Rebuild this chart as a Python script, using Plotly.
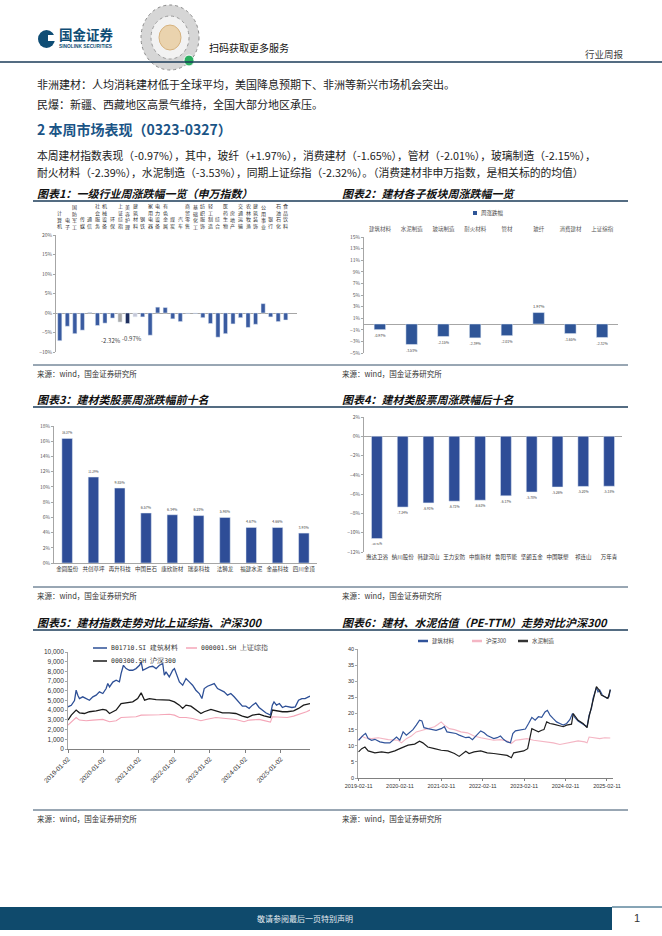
import plotly.graph_objects as go

W, H = 662, 936
FONT = "Noto Sans CJK SC"
MONO = "DejaVu Sans Mono"


def X(p):
    return p / W


def Y(p):
    return 1 - p / H


# ---------------- data ----------------
# Chart 1: SW level-1 industries weekly change (%)
ind_names = ["计算机", "电子", "国防军工", "传媒", "通信", "社会服务", "机械设备", "环保",
             "上证综指", "美容护理", "建筑材料", "钢铁", "家用电器", "电力设备", "有色金属", "煤炭",
             "汽车", "商贸零售", "基础化工", "纺织服饰", "轻工制造", "综合", "医药生物", "房地产",
             "交通运输", "农林牧渔", "建筑装饰", "公用事业", "银行", "石油石化", "食品饮料"]
ind_chg = [-7.1, -3.4, -5.3, -4.4, 0.1, -3.2, -2.6, -1.3,
           -2.32, -2.7, -0.97, -1.0, -5.7, 1.5, 1.4, -1.5,
           -2.2, -0.1, -0.1, -1.2, -2.7, -6.2, -5.3, -2.8,
           -1.2, -3.7, -2.9, 2.4, -1.0, -2.2, -1.8]
ind_labelled = ["上证综指", "建筑材料"]

# Chart 2: building-material sub-sectors
sub_names = ["建筑材料", "水泥制造", "玻璃制造", "耐火材料", "管材", "玻纤", "消费建材", "上证综指"]
sub_chg = [-0.97, -3.53, -2.15, -2.39, -2.01, 1.97, -1.65, -2.32]

# Chart 3: top ten
top_names = ["金圆股份", "共创草坪", "再升科技", "中国巨石", "康欣新材", "瑞泰科技", "法狮龙",
             "福建水泥", "金晶科技", "四川金顶"]
top_chg = [16.37, 11.29, 9.85, 6.57, 6.34, 6.23, 5.98, 4.67, 4.66, 3.93]

# Chart 4: bottom ten
bot_names = ["惠达卫浴", "纳川股份", "韩建河山", "王力安防", "中旗新材", "鲁阳节能", "坚朗五金",
             "中国联塑", "祁连山", "万年青"]
bot_chg = [-10.61, -7.34, -6.91, -6.73, -6.63, -6.17, -5.78, -5.26, -5.20, -5.18]

# Chart 5: index levels
c5_tick_dates = ["2019-01-02", "2020-01-02", "2021-01-02", "2022-01-02", "2023-01-02",
                 "2024-01-02", "2025-01-02"]
bm_dates = ["2019-01-02", "2019-02-05", "2019-03-10", "2019-03-27", "2019-04-13", "2019-04-30",
            "2019-06-03", "2019-07-08", "2019-08-11", "2019-09-15", "2019-10-19", "2019-11-22",
            "2019-12-27",
            "2020-01-30", "2020-02-16", "2020-03-05", "2020-04-08", "2020-05-12", "2020-06-15",
            "2020-07-02", "2020-07-26", "2020-08-23", "2020-09-26", "2020-10-30", "2020-12-03",
            "2021-01-08", "2021-01-25", "2021-02-11", "2021-03-17", "2021-04-20", "2021-05-24",
            "2021-06-28", "2021-08-01", "2021-09-04", "2021-09-21", "2021-10-08", "2021-11-11",
            "2021-12-16",
            "2022-01-03", "2022-01-20", "2022-02-23", "2022-03-29", "2022-05-02", "2022-06-05",
            "2022-07-09", "2022-08-12", "2022-09-16", "2022-10-13", "2022-11-06", "2022-12-10",
            "2023-01-14", "2023-02-17", "2023-03-23", "2023-04-26", "2023-05-30", "2023-07-04",
            "2023-08-07", "2023-09-10", "2023-10-14", "2023-12-04",
            "2024-01-09", "2024-02-12", "2024-03-17", "2024-04-20", "2024-05-24", "2024-06-28",
            "2024-08-01", "2024-09-18", "2024-10-08", "2024-10-25", "2024-11-20", "2024-12-20",
            "2025-01-20", "2025-02-20", "2025-03-25", "2025-04-28", "2025-06-01", "2025-07-05",
            "2025-08-08", "2025-09-10", "2025-10-15", "2025-10-31"]
bm_vals = [4350, 4500, 5000, 6060, 5550, 5200, 5380, 5200, 5030, 5380, 5550, 5890, 5720,
           6230, 6750, 6400, 6900, 7090, 6920, 7770, 8630, 8290, 8120, 8120, 8290,
           8630, 8970, 8120, 8290, 8460, 8530, 8290, 8630, 8800, 7600, 7950, 7430, 8120,
           8290, 7770, 6920, 6580, 7260, 6920, 6580, 6060, 5720, 5200, 6230, 6470,
           6580, 6750, 6230, 6060, 5890, 5550, 5720, 5380, 5030, 4420,
           4420, 4180, 4520, 4760, 4280, 4010, 3730, 3490, 4520, 4860, 4520, 4690,
           4280, 4420, 4350, 4280, 4350, 5030, 5200, 5200, 5380, 5440]
hs_dates = ["2019-01-02", "2019-02-05", "2019-03-27", "2019-04-30", "2019-06-20", "2019-08-11",
            "2019-10-19", "2019-12-27", "2020-01-30", "2020-03-05", "2020-04-08", "2020-05-12",
            "2020-07-02", "2020-08-23", "2020-10-30", "2020-12-20", "2021-01-25", "2021-03-01",
            "2021-04-20", "2021-06-28", "2021-09-04", "2021-11-11", "2022-01-03", "2022-02-23",
            "2022-03-29", "2022-05-02", "2022-06-22", "2022-08-12", "2022-10-03", "2022-11-06",
            "2023-01-14", "2023-03-06", "2023-05-13", "2023-07-21", "2023-09-27", "2023-12-04",
            "2024-01-25", "2024-03-17", "2024-05-24", "2024-07-15", "2024-09-18", "2024-10-08",
            "2024-11-20", "2025-01-20", "2025-03-10", "2025-05-15", "2025-07-05", "2025-08-25",
            "2025-10-31"]
hs_vals = [2980, 3490, 4010, 3730, 3660, 3840, 3940, 4080, 4010, 3660, 3840, 4010,
           4690, 4760, 4860, 5200, 5790, 5030, 5200, 5100, 5030, 5030, 4860, 4520,
           4180, 4520, 4420, 4010, 3660, 3840, 4080, 3940, 3730, 3730, 3660, 3390,
           3250, 3490, 3590, 3420, 3250, 4010, 3940, 3840, 3840, 3940, 4180, 4520, 4690]
sh_dates = ["2019-01-02", "2019-02-22", "2019-03-27", "2019-04-30", "2019-07-08", "2019-09-15",
            "2019-12-27", "2020-03-05", "2020-05-12", "2020-07-02", "2020-08-23", "2020-12-03",
            "2021-01-25", "2021-04-20", "2021-08-01", "2021-11-11", "2022-01-03", "2022-02-23",
            "2022-05-02", "2022-07-09", "2022-10-03", "2022-11-23", "2023-01-14", "2023-03-06",
            "2023-06-17", "2023-09-27", "2023-12-21", "2024-02-12", "2024-05-24", "2024-09-18",
            "2024-10-08", "2024-12-20", "2025-03-10", "2025-05-15", "2025-07-20", "2025-09-25",
            "2025-10-31"]
sh_vals = [2470, 2980, 3250, 2980, 2910, 2980, 3050, 2810, 2910, 3250, 3250, 3320,
           3490, 3490, 3530, 3590, 3490, 3250, 3250, 3150, 2910, 3050, 3180, 3250,
           3150, 3050, 2810, 2980, 3050, 2770, 3320, 3250, 3250, 3390, 3590, 3840, 4010]

# Chart 6: PE-TTM
c6_tick_dates = ["2019-02-11", "2020-02-11", "2021-02-11", "2022-02-11", "2023-02-11",
                 "2024-02-11", "2025-02-11"]
pe_bm_dates = ["2019-02-11", "2019-03-05", "2019-03-25", "2019-04-14", "2019-05-07", "2019-06-06",
               "2019-07-05", "2019-08-18", "2019-10-01", "2019-11-14", "2019-12-13", "2020-01-12",
               "2020-02-10", "2020-03-10", "2020-04-08", "2020-05-07", "2020-06-05", "2020-07-04",
               "2020-08-02", "2020-08-23", "2020-09-10", "2020-10-14", "2020-11-27", "2020-12-26",
               "2021-02-09", "2021-03-09", "2021-04-01", "2021-05-06", "2021-06-19", "2021-07-18",
               "2021-08-16", "2021-09-14", "2021-10-13", "2021-11-12", "2021-12-11", "2022-01-24",
               "2022-02-23", "2022-03-22", "2022-04-20", "2022-05-19", "2022-06-18", "2022-07-17",
               "2022-08-15", "2022-09-14", "2022-10-13", "2022-11-03", "2022-11-26", "2023-01-09",
               "2023-02-22", "2023-03-22", "2023-04-20", "2023-05-19", "2023-06-17", "2023-07-16",
               "2023-08-14", "2023-09-04", "2023-09-27", "2023-10-26", "2023-11-24", "2023-12-23",
               "2024-01-22", "2024-02-21", "2024-03-20", "2024-04-13", "2024-05-03", "2024-06-01",
               "2024-07-01", "2024-07-30", "2024-08-19", "2024-09-06", "2024-09-27", "2024-10-11",
               "2024-10-26", "2024-11-10", "2024-11-24", "2024-12-09", "2025-01-01", "2025-01-22",
               "2025-02-11", "2025-03-01", "2025-03-12"]
pe_bm_vals = [11.7, 12.7, 13.3, 13.8, 12.2, 11.7, 12.0, 11.2, 10.9, 10.9, 11.7, 12.7,
              11.7, 14.3, 13.3, 14.3, 15.0, 16.4, 17.9, 17.7, 15.6, 15.3, 15.0, 14.8,
              15.3, 15.9, 14.3, 14.0, 13.8, 13.3, 13.0, 12.5, 12.7, 11.9, 13.0, 14.6,
              14.0, 13.2, 12.7, 12.2, 12.5, 13.0, 11.9, 11.2, 10.9, 13.8, 14.6, 15.0,
              15.2, 16.9, 18.8, 17.9, 19.0, 18.8, 20.5, 21.0, 19.5, 18.4, 17.4, 16.9,
              16.4, 16.9, 18.1, 20.0, 18.8, 17.7, 17.1, 16.4, 15.9, 19.5, 21.6, 24.7,
              26.2, 28.1, 26.7, 27.3, 25.7, 25.2, 24.7, 25.2, 27.5]
pe_hs_dates = ["2019-02-11", "2019-03-11", "2019-04-08", "2019-06-06", "2019-08-03", "2019-10-31",
               "2020-01-26", "2020-02-24", "2020-04-08", "2020-05-21", "2020-07-04", "2020-08-17",
               "2020-10-14", "2020-12-12", "2021-01-10", "2021-02-09", "2021-03-09", "2021-04-22",
               "2021-06-06", "2021-08-02", "2021-09-29", "2021-11-26", "2022-01-24", "2022-03-22",
               "2022-05-19", "2022-07-17", "2022-09-14", "2022-10-21", "2022-11-26", "2023-01-09",
               "2023-03-08", "2023-05-06", "2023-07-02", "2023-08-29", "2023-10-26", "2023-12-23",
               "2024-02-05", "2024-04-04", "2024-06-01", "2024-07-30", "2024-08-19", "2024-09-06",
               "2024-10-11", "2024-12-09", "2025-01-22", "2025-03-12"]
pe_hs_vals = [11.7, 13.0, 12.5, 12.2, 12.5, 11.9, 11.7, 10.9, 12.2, 13.0, 14.3, 14.8,
              15.3, 15.9, 16.6, 17.4, 16.4, 15.3, 15.0, 14.3, 14.0, 13.0, 12.5, 12.2,
              11.7, 11.9, 11.5, 10.7, 11.7, 11.9, 12.2, 11.7, 11.5, 11.2, 10.9, 10.4,
              10.7, 11.2, 11.5, 11.2, 10.9, 12.7, 12.5, 12.2, 12.5, 12.4]
pe_cm_dates = ["2019-02-11", "2019-03-11", "2019-04-08", "2019-05-07", "2019-07-05", "2019-09-02",
               "2019-10-31", "2019-12-28", "2020-02-10", "2020-03-10", "2020-04-23", "2020-06-20",
               "2020-08-02", "2020-08-31", "2020-10-14", "2020-12-12", "2021-02-09", "2021-04-09",
               "2021-06-06", "2021-07-18", "2021-08-16", "2021-09-14", "2021-10-13", "2021-11-26",
               "2022-01-24", "2022-03-22", "2022-05-19", "2022-07-17", "2022-09-14", "2022-10-21",
               "2022-11-11", "2022-12-25", "2023-02-07", "2023-03-14", "2023-03-31", "2023-04-20",
               "2023-05-19", "2023-06-17", "2023-07-16", "2023-08-05", "2023-08-29", "2023-09-27",
               "2023-10-26", "2023-12-09", "2024-01-22", "2024-02-21", "2024-04-04", "2024-04-19",
               "2024-06-01", "2024-07-15", "2024-08-19", "2024-09-06", "2024-10-11", "2024-11-10",
               "2024-12-03", "2024-12-23", "2025-01-22", "2025-02-19", "2025-03-12"]
pe_cm_vals = [8.1, 9.1, 9.6, 8.4, 7.8, 8.1, 7.8, 8.4, 9.1, 9.6, 10.2, 10.5,
              11.4, 10.9, 9.6, 9.1, 8.6, 8.4, 7.6, 6.7, 7.4, 8.3, 7.6, 8.1,
              8.4, 7.8, 7.6, 7.4, 7.0, 6.3, 7.8, 8.1, 8.4, 9.1, 12.2, 15.3,
              14.8, 14.3, 14.8, 15.0, 17.4, 16.9, 16.7, 16.4, 15.9, 16.4, 16.7, 20.0,
              17.9, 16.9, 15.6, 19.0, 24.1, 28.3, 27.3, 25.7, 25.2, 24.7, 27.3]

# ---------------- styles ----------------
BLUE = "#2f5597"
BAR1 = "#3a5ba0"
NAVY = "#1b3b58"
TICK = "#595959"
AXC = "#a6a6a6"

fig = go.Figure()

# chart 1
c1_colors = []
for n in ind_names:
    if n == "上证综指":
        c1_colors.append("#a9a9a9")
    elif n == "美容护理":
        c1_colors.append("#1f2f5e")
    elif n == "建筑材料":
        c1_colors.append("#c5c8d8")
    else:
        c1_colors.append(BAR1)
fig.add_trace(go.Bar(x=ind_names, y=ind_chg, marker_color=c1_colors, width=0.55,
                     xaxis="x", yaxis="y", showlegend=False, hoverinfo="x+y"))

# chart 2
fig.add_trace(go.Bar(x=sub_names, y=sub_chg, marker_color=BLUE, width=0.36,
                     text=[f"{v:.2f}%" for v in sub_chg], textposition="outside",
                     textfont=dict(size=6.5, color="#404040", family=FONT), cliponaxis=False,
                     xaxis="x2", yaxis="y2", showlegend=False))

# chart 3
fig.add_trace(go.Bar(x=top_names, y=top_chg, marker_color="#2e4d97", width=0.4,
                     text=[f"{v:.2f}%" for v in top_chg], textposition="outside",
                     textfont=dict(size=6, color="#404040", family=FONT), cliponaxis=False,
                     xaxis="x3", yaxis="y3", showlegend=False))

# chart 4
fig.add_trace(go.Bar(x=bot_names, y=bot_chg, marker_color="#2e4d97", width=0.42,
                     text=[f"{v:.2f}%" for v in bot_chg], textposition="outside",
                     textfont=dict(size=6, color="#404040", family=FONT), cliponaxis=False,
                     xaxis="x4", yaxis="y4", showlegend=False))

# chart 5
fig.add_trace(go.Scatter(x=sh_dates, y=sh_vals, mode="lines", line=dict(color="#f4a6b8", width=1.1),
                         xaxis="x5", yaxis="y5", showlegend=False))
fig.add_trace(go.Scatter(x=hs_dates, y=hs_vals, mode="lines", line=dict(color="#1a1a1a", width=1.3),
                         xaxis="x5", yaxis="y5", showlegend=False))
fig.add_trace(go.Scatter(x=bm_dates, y=bm_vals, mode="lines", line=dict(color="#2d4f96", width=1.3),
                         xaxis="x5", yaxis="y5", showlegend=False))

# chart 6
fig.add_trace(go.Scatter(x=pe_hs_dates, y=pe_hs_vals, mode="lines", line=dict(color="#f4b6c4", width=1.1),
                         xaxis="x6", yaxis="y6", showlegend=False))
fig.add_trace(go.Scatter(x=pe_bm_dates, y=pe_bm_vals, mode="lines", line=dict(color="#30539a", width=1.2),
                         xaxis="x6", yaxis="y6", showlegend=False))
fig.add_trace(go.Scatter(x=pe_cm_dates, y=pe_cm_vals, mode="lines", line=dict(color="#1e1e1e", width=1.2),
                         xaxis="x6", yaxis="y6", showlegend=False))


def yax(dom, rng, dtick, suffix="", fmt=None, size=5, tick0=None, zero=False, fam=FONT, col=TICK):
    d = dict(domain=dom, range=rng, dtick=dtick, ticksuffix=suffix, showgrid=False,
             tickfont=dict(size=size, color=col, family=fam), showline=True, linecolor=AXC,
             linewidth=0.8, ticks="outside", ticklen=2, tickcolor=AXC, automargin=False,
             zeroline=zero, zerolinecolor=AXC, zerolinewidth=0.8)
    if fmt:
        d["tickformat"] = fmt
    if tick0 is not None:
        d["tick0"] = tick0
    return d


layout = dict(
    width=W, height=H, margin=dict(l=0, r=0, t=0, b=0, pad=0, autoexpand=False),
    autosize=False,
    paper_bgcolor="white", plot_bgcolor="white",
    font=dict(family=FONT, color="#222"),
    xaxis=dict(domain=[X(56), X(297)], anchor="y", type="category", range=[-0.5, 31.5],
               showticklabels=False, showgrid=False, showline=False, ticks="", automargin=False),
    yaxis=dict(anchor="x", **yax([Y(352), Y(235)], [-10, 20], 5, "%", zero=True)),
    xaxis2=dict(domain=[X(364), X(618)], anchor="y2", type="category", side="top",
                tickfont=dict(size=5.5, color=TICK), showgrid=False, showline=False, ticks="",
                ticklabelstandoff=4, automargin=False),
    yaxis2=dict(anchor="x2", **yax([Y(353), Y(237)], [-5, 15], 2, "%", tick0=-5, zero=True)),
    xaxis3=dict(domain=[X(54), X(317)], anchor="y3", type="category",
                tickfont=dict(size=5.5, color="#333"), showgrid=False, showline=True,
                linecolor=AXC, linewidth=0.8, ticks="", automargin=False),
    yaxis3=dict(anchor="x3", **yax([Y(563), Y(426)], [0, 18], 2, "%")),
    xaxis4=dict(domain=[X(364), X(622)], anchor="y4", type="category",
                tickfont=dict(size=5.5, color="#333"), showgrid=False, showline=False, ticks="",
                automargin=False),
    yaxis4=dict(anchor="x4", **yax([Y(552), Y(417)], [-12, 2], 2, "%", zero=True)),
    xaxis5=dict(domain=[X(68), X(310)], anchor="y5", type="date",
                range=["2019-01-02", "2025-10-31"], tickvals=c5_tick_dates, tickformat="%Y-%m-%d",
                tickangle=-45, tickfont=dict(size=6.5, color="#333", family="Liberation Sans"),
                showgrid=False, showline=True, linecolor="#808080", linewidth=0.8,
                ticks="outside", ticklen=3, tickcolor="#808080", automargin=False),
    yaxis5=dict(anchor="x5", **yax([Y(749), Y(652)], [0, 10000], 1000, fmt=",", size=6.5,
                                   fam="Liberation Sans", col="#333")),
    xaxis6=dict(domain=[X(358), X(613)], anchor="y6", type="date",
                range=["2019-02-06", "2025-04-05"], tickvals=c6_tick_dates, tickformat="%Y-%m-%d",
                tickangle=0, tickfont=dict(size=5.5, color="#333", family="Liberation Sans"),
                showgrid=False, showline=True, linecolor="#808080", linewidth=0.8,
                ticks="outside", ticklen=2, tickcolor="#808080", automargin=False),
    yaxis6=dict(anchor="x6", **yax([Y(778), Y(649)], [0, 40], 5, size=5.5,
                                   fam="Liberation Sans", col="#333")),
)

ann = []
shapes = []


def txt(x, y, s, size, color="#222", xanchor="left", family=FONT, bold=False, italic=False):
    if bold:
        s = f"<b>{s}</b>"
    if italic:
        s = f"<i>{s}</i>"
    ann.append(dict(x=X(x), y=Y(y), xref="paper", yref="paper", text=s, showarrow=False,
                    xanchor=xanchor, yanchor="middle",
                    font=dict(size=size, color=color, family=family)))


def hline(x0, x1, y, color=NAVY, width=1.5):
    shapes.append(dict(type="line", xref="paper", yref="paper", x0=X(x0), x1=X(x1),
                       y0=Y(y), y1=Y(y), line=dict(color=color, width=width)))


def box(x0, x1, y0, y1, color):
    shapes.append(dict(type="rect", xref="paper", yref="paper", x0=X(x0), x1=X(x1),
                       y0=Y(y1), y1=Y(y0), fillcolor=color, line=dict(width=0)))


# ---- header ----
shapes.append(dict(type="circle", xref="paper", yref="paper", x0=X(38), x1=X(55), y0=Y(48), y1=Y(30),
                   fillcolor="#0f4d75", line=dict(width=0)))
box(48, 55.5, 35, 41, "white")
txt(57, 34, "国金证券", 13.5, "#0f4d75", bold=True)
txt(57, 46.5, "SINOLINK SECURITIES", 4.8, "#0f4d75", family="Liberation Sans", bold=True)
# QR placeholder
shapes.append(dict(type="circle", xref="paper", yref="paper", x0=X(141), x1=X(199), y0=Y(70), y1=Y(5),
                   fillcolor="#d6d6d6", line=dict(color="#8a8a8a", width=1, dash="dot")))
shapes.append(dict(type="circle", xref="paper", yref="paper", x0=X(151), x1=X(189), y0=Y(59), y1=Y(16),
                   fillcolor="#f2f2f2", line=dict(color="#9a9a9a", width=1, dash="dot")))
shapes.append(dict(type="circle", xref="paper", yref="paper", x0=X(159), x1=X(181), y0=Y(50), y1=Y(25),
                   fillcolor="#ead3ae", line=dict(color="#d6b27e", width=1)))
shapes.append(dict(type="circle", xref="paper", yref="paper", x0=X(184), x1=X(194), y0=Y(66), y1=Y(55),
                   fillcolor="#2aae5f", line=dict(color="white", width=1)))
txt(207, 47, "扫码获取更多服务", 10, "#111")
txt(626, 54, "行业周报", 9.5, "#404040", xanchor="right")
hline(0, 662, 62, NAVY, 1.6)

# ---- body text ----
txt(35, 84, "非洲建材：人均消耗建材低于全球平均，美国降息预期下、非洲等新兴市场机会突出。", 11, "#222")
txt(35, 104, "民爆：新疆、西藏地区高景气维持，全国大部分地区承压。", 11, "#222")
txt(35, 129, "2 本周市场表现（0323-0327）", 14, "#1a5486", bold=True)
txt(35, 155, "本周建材指数表现（-0.97%），其中，玻纤（+1.97%），消费建材（-1.65%），管材（-2.01%），玻璃制造（-2.15%），",
    10.8, "#222")
txt(35, 172, "耐火材料（-2.39%），水泥制造（-3.53%），同期上证综指（-2.32%）。（消费建材非申万指数，是相关标的的均值）",
    10.8, "#222")

# ---- chart titles / rules / sources ----
titles = [(193, "图表1：一级行业周涨跌幅一览（申万指数）", "图表2：建材各子板块周涨跌幅一览"),
          (399, "图表3：建材类股票周涨跌幅前十名", "图表4：建材类股票周涨跌幅后十名"),
          (622, "图表5：建材指数走势对比上证综指、沪深300", "图表6：建材、水泥估值（PE-TTM）走势对比沪深300")]
for y, a, b in titles:
    txt(35, y, a, 11, "#111", bold=True, italic=True)
    txt(340, y, b, 11, "#111", bold=True, italic=True)
    hline(33, 628, y + 8, NAVY, 1.5)
for y in (373, 595, 818):
    hline(33, 628, y - 8, NAVY, 0.9)
    txt(35, y, "来源：wind，国金证券研究所", 7.5, "#333")
    txt(340, y, "来源：wind，国金证券研究所", 7.5, "#333")

# ---- chart 1 vertical category labels ----
for n in ind_names:
    ann.append(dict(x=n, xref="x", y=Y(232), yref="paper", text="<br>".join(list(n)),
                    showarrow=False, xanchor="center", yanchor="bottom",
                    font=dict(size=5, color="#333", family=FONT)))
for n, dx, dy in ((ind_labelled[0], -9, -18), (ind_labelled[1], -3, -22)):
    v = ind_chg[ind_names.index(n)]
    ann.append(dict(x=n, xref="x", y=v, yref="y", text=f"{v:.2f}%", showarrow=False,
                    xshift=dx, yshift=dy, font=dict(size=6, color="#404040", family=FONT)))

# ---- chart 2 legend ----
box(473, 477, 211, 215, BLUE)
txt(479, 213, "周涨跌幅", 5.5, "#404040")

# ---- chart 5 legend ----
hline(93, 107, 648, "#2d4f96", 1.5)
txt(109, 648, "B01710.SI 建筑材料", 6.5, "#333", family=MONO)
hline(186, 197, 648, "#f4a6b8", 1.5)
txt(199, 648, "000001.SH 上证综指", 6.5, "#333", family=MONO)
hline(93, 107, 661, "#1a1a1a", 1.5)
txt(109, 661, "000300.SH 沪深300", 6.5, "#333", family=MONO)

# ---- chart 6 legend ----
hline(418, 428, 641, "#30539a", 2.5)
txt(430, 641, "建筑材料", 5.5, "#444")
hline(472, 482, 641, "#f4b6c4", 2.5)
txt(484, 641, "沪深300", 5.5, "#444")
hline(518, 528, 641, "#333333", 2.5)
txt(530, 641, "水泥制造", 5.5, "#444")

# ---- footer ----
box(0, 612, 907, 930, "#0f4a6c")
hline(612, 662, 907, "#0f4a6c", 1)
txt(305, 918, "敬请参阅最后一页特别声明", 8, "#e4eaf0", xanchor="center")
txt(637, 918, "1", 11, "#333", xanchor="center", family="Liberation Sans")

layout["annotations"] = ann
layout["shapes"] = shapes
fig.update_layout(**layout)
fig.write_html("out.html", config={"responsive": False, "displayModeBar": False},
               post_script="document.body.style.margin='0';document.body.style.overflow='hidden';")
